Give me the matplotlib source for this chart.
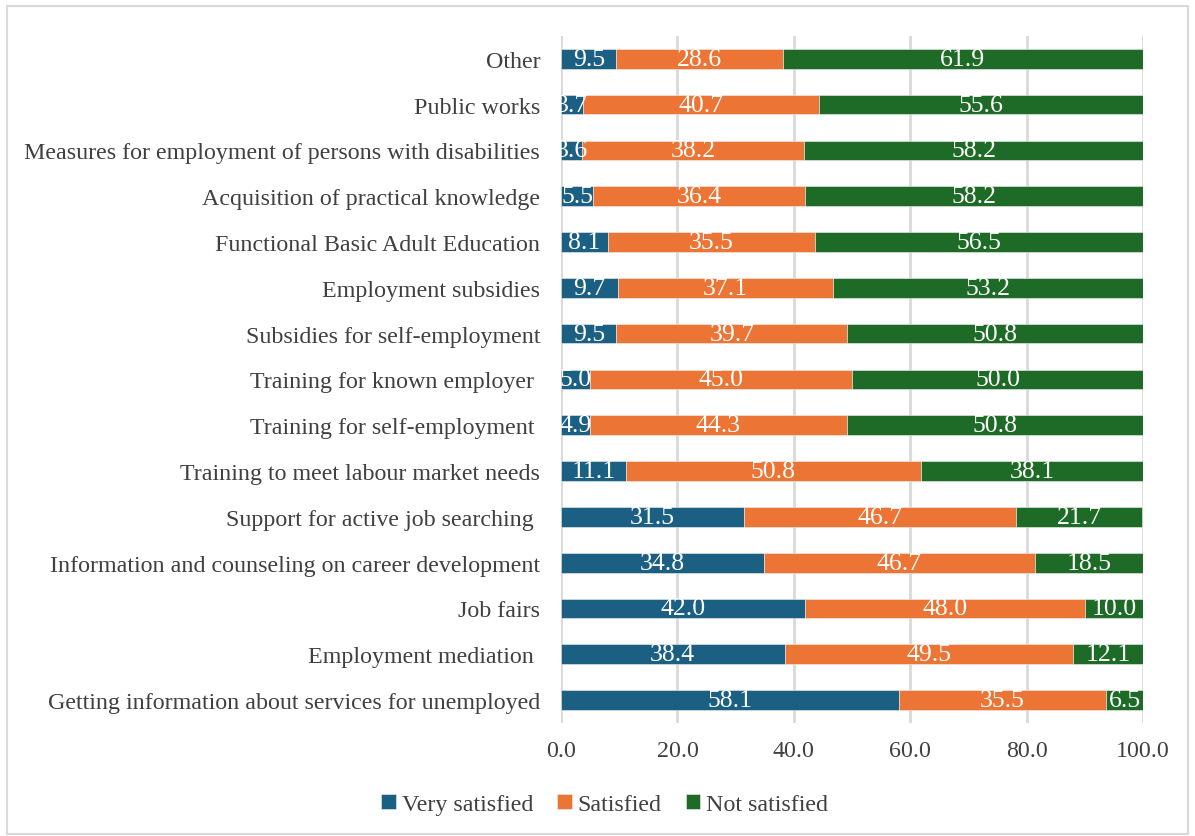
import numpy as np
from matplotlib import pyplot as plt
from matplotlib.patches import Rectangle

plt.rcParams['font.family'] = ['Liberation Serif', 'DejaVu Serif']

# measures, listed from the bottom row up
measures = [
    'Getting information about services for unemployed',
    'Employment mediation ',
    'Job fairs',
    'Information and counseling on career development',
    'Support for active job searching ',
    'Training to meet labour market needs',
    'Training for self-employment ',
    'Training for known employer ',
    'Subsidies for self-employment',
    'Employment subsidies',
    'Functional Basic Adult Education',
    'Acquisition of practical knowledge',
    'Measures for employment of persons with disabilities',
    'Public works',
    'Other',
]
very_satisfied = [58.1, 38.4, 42.0, 34.8, 31.5, 11.1, 4.9, 5.0, 9.5, 9.7, 8.1, 5.5, 3.6, 3.7, 9.5]
satisfied = [35.5, 49.5, 48.0, 46.7, 46.7, 50.8, 44.3, 45.0, 39.7, 37.1, 35.5, 36.4, 38.2, 40.7, 28.6]
not_satisfied = [6.5, 12.1, 10.0, 18.5, 21.7, 38.1, 50.8, 50.0, 50.8, 53.2, 56.5, 58.2, 58.2, 55.6, 61.9]

series = [
    ('Very satisfied', very_satisfied, '#1B5F83'),
    ('Satisfied', satisfied, '#EC7434'),
    ('Not satisfied', not_satisfied, '#1E6B28'),
]

fig = plt.figure(figsize=(11.95, 8.37), dpi=100)
ax = fig.add_axes([0.4695, 0.135, 0.487, 0.821])

y = np.arange(len(measures))
left = np.zeros(len(measures))
for name, vals, color in series:
    vals = np.array(vals)
    bars = ax.barh(y, vals, left=left, height=0.43, color=color,
                   edgecolor='#f0f0f0', linewidth=0.4, label=name, zorder=3)
    for b, v in zip(bars, vals):
        ax.text(b.get_x() + b.get_width() / 2, b.get_y() + b.get_height() / 2,
                '%.1f' % v, ha='center', va='center', color='white',
                fontsize=18.5, zorder=4)
    left = left + vals

ax.set_xlim(0, 100)
ax.set_ylim(-0.5, len(measures) - 0.5)
ax.set_xticks(np.arange(0, 101, 20))
ax.set_xticklabels(['%.1f' % t for t in np.arange(0, 101, 20)])
ax.set_yticks(y)
ax.set_yticklabels(measures)
ax.tick_params(axis='both', length=0, labelsize=17.3, labelcolor='#404040')
ax.tick_params(axis='x', pad=12)
ax.tick_params(axis='y', pad=15)
ax.xaxis.grid(True, color='#d9d9d9', linewidth=2, zorder=0)
for s in ax.spines.values():
    s.set_visible(False)

ax.legend(loc='upper center', bbox_to_anchor=(0.075, -0.072), ncol=3,
          frameon=False, fontsize=17.3, handlelength=0.6, handleheight=0.6,
          handletextpad=0.25, columnspacing=1.0, labelcolor='#404040')

# chart border
fig.patches.append(Rectangle((7 / 1195, 2 / 837), 1181 / 1195, 828 / 837,
                             transform=fig.transFigure, fill=False,
                             edgecolor='#d9d9d9', linewidth=1.5))

plt.savefig('out.png')
